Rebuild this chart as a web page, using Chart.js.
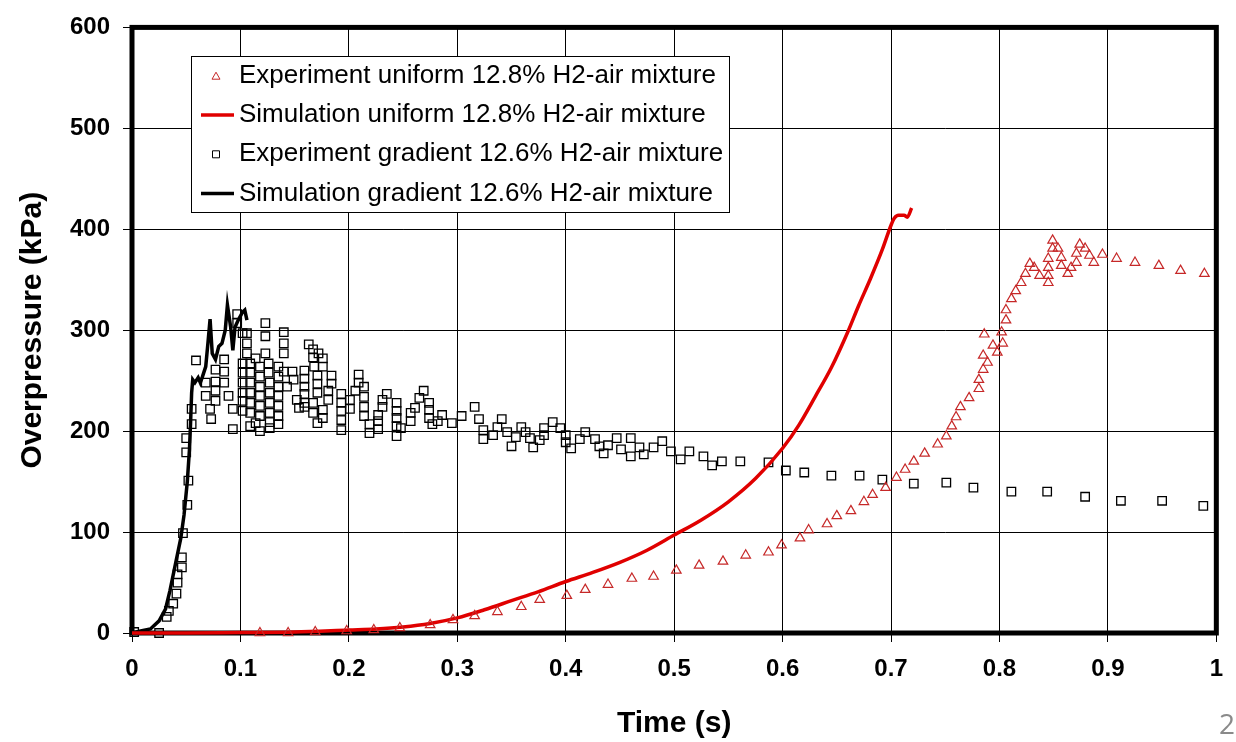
<!DOCTYPE html>
<html>
<head>
<meta charset="utf-8">
<script src="https://cdn.jsdelivr.net/npm/chart.js@4/dist/chart.umd.min.js"></script>
<style>
  html, body { margin: 0; padding: 0; background: #fff; }
  #wrap { width: 1236px; height: 742px; position: relative; }
</style>
</head>
<body>
<div id="wrap"><canvas id="c" width="1236" height="742"></canvas></div>
<script>
// Simulation, gradient 12.6% H2-air mixture (time s, overpressure kPa)
const simGradT = [0, 0.008, 0.017, 0.025, 0.031, 0.035, 0.040, 0.045, 0.048, 0.051, 0.053, 0.054, 0.055, 0.056, 0.058, 0.061, 0.063, 0.065, 0.068, 0.070, 0.072, 0.074, 0.077, 0.080, 0.083, 0.086, 0.088, 0.091, 0.093, 0.095, 0.098, 0.102, 0.104, 0.106];
const simGradP = [0, 2, 4, 12, 24, 42, 68, 94, 117, 150, 182, 208, 238, 251, 248, 253, 248, 254, 264, 287, 311, 277, 271, 284, 287, 300, 325, 303, 280, 303, 310, 318, 320, 310];

// Simulation, uniform 12.8% H2-air mixture
const simUniT = [0, 0.05, 0.10, 0.15, 0.20, 0.225, 0.25, 0.275, 0.30, 0.325, 0.35, 0.375, 0.40, 0.425, 0.45, 0.475, 0.50, 0.525, 0.55, 0.575, 0.60, 0.615, 0.63, 0.645, 0.66, 0.67, 0.681, 0.692, 0.700, 0.703, 0.707, 0.712, 0.715, 0.719];
const simUniP = [0, 0, 0.5, 1, 3, 4, 6, 9.5, 15, 23, 32, 41, 51, 60, 70, 82, 97, 112, 130, 153, 183, 206, 234, 263, 298, 324, 351, 380, 404, 411, 414, 414, 412, 421];

// Experiment, uniform 12.8% H2-air mixture
const expUniT = [0.118, 0.144, 0.169, 0.198, 0.223, 0.247, 0.275, 0.296, 0.316, 0.337, 0.359, 0.376, 0.401, 0.418, 0.439, 0.461, 0.481, 0.502, 0.523, 0.545, 0.566, 0.587, 0.599, 0.616, 0.624, 0.641, 0.650, 0.663, 0.675, 0.683, 0.695, 0.705, 0.713, 0.721, 0.731, 0.743, 0.751, 0.756, 0.760, 0.764, 0.772, 0.781, 0.781, 0.785, 0.789, 0.785, 0.794, 0.786, 0.798, 0.803, 0.802, 0.806, 0.806, 0.811, 0.815, 0.820, 0.824, 0.828, 0.832, 0.837, 0.845, 0.845, 0.845, 0.845, 0.849, 0.849, 0.854, 0.857, 0.857, 0.863, 0.866, 0.871, 0.871, 0.874, 0.879, 0.883, 0.887, 0.895, 0.908, 0.925, 0.947, 0.967, 0.989];
const expUniP = [0, 0, 1, 2, 3, 5, 8, 13, 17, 21, 26, 33, 37, 43, 48, 54, 56, 62, 67, 71, 77, 80, 87, 94, 102, 108, 116, 121, 130, 137, 144, 154, 162, 170, 178, 187, 195, 205, 214, 224, 233, 242, 251, 261, 268, 275, 285, 296, 278, 287, 298, 310, 320, 331, 339, 347, 356, 366, 362, 354, 347, 354, 362, 371, 381, 389, 381, 372, 364, 356, 362, 367, 376, 385, 381, 374, 367, 375, 371, 367, 364, 359, 356];

// Experiment, gradient 12.6% H2-air mixture
const expGradT = [
  0.002, 0.025, 0.032, 0.034, 0.038, 0.041, 0.042, 0.042, 0.046, 0.046, 0.047, 0.051, 0.052, 0.050, 0.050, 0.055, 0.055, 0.059,
  0.068, 0.068, 0.072, 0.073, 0.077, 0.077, 0.077, 0.077, 0.085, 0.085, 0.085, 0.089, 0.093, 0.093, 0.097, 0.097,
  0.102, 0.102, 0.102, 0.102, 0.102, 0.102, 0.102, 0.106, 0.106, 0.106, 0.109, 0.109, 0.109, 0.109, 0.109, 0.109, 0.109,
  0.114, 0.114, 0.118, 0.118, 0.118, 0.118, 0.118, 0.118, 0.118, 0.123, 0.123, 0.123, 0.126, 0.126, 0.127, 0.127, 0.127, 0.127, 0.127, 0.127,
  0.135, 0.135, 0.135, 0.135, 0.135, 0.135, 0.135, 0.140, 0.140, 0.140, 0.140, 0.143, 0.148, 0.149, 0.152, 0.154,
  0.159, 0.159, 0.159, 0.159, 0.159, 0.159, 0.163, 0.167, 0.167, 0.167, 0.167, 0.168, 0.171, 0.171, 0.171, 0.171, 0.172,
  0.176, 0.176, 0.176, 0.176, 0.181, 0.181, 0.184, 0.184, 0.193, 0.193, 0.193, 0.193, 0.193, 0.201, 0.201, 0.206, 0.209, 0.209,
  0.214, 0.214, 0.214, 0.214, 0.219, 0.219, 0.227, 0.227, 0.227, 0.231, 0.231, 0.235, 0.244, 0.244, 0.244, 0.244, 0.244, 0.248,
  0.257, 0.257, 0.261, 0.265, 0.269, 0.274, 0.274, 0.274, 0.277, 0.282, 0.286, 0.295,
  0.304, 0.316, 0.320, 0.324, 0.324, 0.333, 0.337, 0.341, 0.346, 0.350, 0.354, 0.359, 0.363, 0.367, 0.370, 0.376, 0.380, 0.380,
  0.388, 0.395, 0.400, 0.400, 0.405, 0.413, 0.418, 0.427, 0.431, 0.435, 0.439, 0.447, 0.451, 0.460, 0.460, 0.468, 0.472, 0.481,
  0.489, 0.497, 0.506, 0.514, 0.527, 0.535, 0.544, 0.561, 0.587, 0.603, 0.620,
  0.645, 0.671, 0.692, 0.721, 0.751, 0.776, 0.811, 0.844, 0.879, 0.912, 0.950, 0.988
];
const expGradP = [
  1, 0, 16, 22, 29, 39, 50, 58, 65, 75, 99, 127, 151, 179, 193, 207, 222, 270,
  248, 235, 222, 212, 261, 249, 240, 230, 271, 259, 248, 235, 222, 202, 316, 307,
  297, 267, 258, 248, 238, 230, 220, 297, 287, 277, 267, 258, 248, 238, 228, 218, 205,
  272, 208, 200, 264, 254, 244, 235, 225, 215, 307, 294, 277, 267, 258, 248, 238, 228, 218, 209, 203,
  264, 254, 244, 235, 225, 215, 207, 298, 287, 277, 259, 244, 259, 251, 231, 223,
  260, 252, 244, 237, 228, 224, 286, 281, 273, 228, 218, 264, 255, 247, 238, 208, 277,
  272, 264, 221, 213, 231, 240, 255, 247, 237, 228, 220, 211, 201, 231, 222, 240, 256, 248,
  244, 234, 224, 215, 207, 198, 216, 210, 202, 231, 224, 237, 228, 220, 213, 205, 195, 203,
  218, 210, 223, 233, 240, 228, 221, 213, 207, 210, 216, 208,
  215, 224, 212, 201, 192, 196, 204, 212, 199, 185, 194, 204, 199, 193, 184, 191, 203, 196,
  209, 203, 196, 189, 183, 192, 199, 192, 185, 178, 186, 193, 182, 193, 175, 184, 177, 184,
  190, 180, 172, 180, 175, 166, 170, 170, 169, 161, 159,
  156, 156, 152, 148, 149, 144, 140, 140, 135, 131, 131, 126
];

const seriesLabels = [
  'Experiment uniform 12.8% H2-air mixture',
  'Simulation uniform 12.8% H2-air mixture',
  'Experiment gradient 12.6% H2-air mixture',
  'Simulation gradient 12.6% H2-air mixture'
];

const RED_MARK = '#c62828';
const RED_LINE = '#e00000';
const FONT = '"Liberation Sans", Arial, sans-serif';

const pts = (t, p) => t.map((x, i) => ({ x: x, y: p[i] }));

// Plot frame drawn under the data
const framePlugin = {
  id: 'frame',
  beforeDatasetsDraw(chart) {
    const { ctx, chartArea: a } = chart;
    ctx.save();
    ctx.strokeStyle = '#000';
    ctx.lineWidth = 5;
    ctx.strokeRect(a.left, a.top, a.right - a.left, a.bottom - a.top);
    ctx.restore();
  }
};

// Boxed legend inside the plot, plus the page number
const legendBoxPlugin = {
  id: 'legendBox',
  afterDatasetsDraw(chart) {
    const { ctx } = chart;
    const bx = 191.5, by = 56.5, bw = 538, bh = 156;
    ctx.save();
    ctx.fillStyle = '#fff';
    ctx.fillRect(bx, by, bw, bh);
    ctx.strokeStyle = '#000';
    ctx.lineWidth = 1;
    ctx.strokeRect(bx, by, bw, bh);
    const rowY0 = 75.7, rowStep = 39.3, sx = 216, tx = 239;
    chart.data.datasets.forEach((ds, i) => {
      const y = rowY0 + i * rowStep;
      ctx.beginPath();
      if (ds.showLine) {
        ctx.strokeStyle = ds.borderColor;
        ctx.lineWidth = 3.5;
        ctx.moveTo(201, y);
        ctx.lineTo(234, y);
      } else if (ds.pointStyle === 'triangle') {
        ctx.strokeStyle = ds.pointBorderColor;
        ctx.lineWidth = 1;
        ctx.moveTo(sx, y - 3.5);
        ctx.lineTo(sx + 4, y + 3.5);
        ctx.lineTo(sx - 4, y + 3.5);
        ctx.closePath();
      } else {
        ctx.strokeStyle = ds.pointBorderColor;
        ctx.lineWidth = 1;
        ctx.rect(sx - 3.5, y - 3.5, 7, 7);
      }
      ctx.stroke();
      ctx.fillStyle = '#000';
      ctx.font = '26px ' + FONT;
      ctx.textAlign = 'left';
      ctx.textBaseline = 'middle';
      ctx.fillText(ds.label, tx, y);
    });
    ctx.restore();
  },
  afterDraw(chart) {
    const { ctx } = chart;
    ctx.save();
    ctx.fillStyle = '#8a8a8a';
    ctx.font = '28px "Open Sans", sans-serif';
    ctx.textAlign = 'center';
    ctx.textBaseline = 'alphabetic';
    ctx.fillText('2', 1227, 734);
    ctx.restore();
  }
};

new Chart(document.getElementById('c'), {
  type: 'scatter',
  data: {
    datasets: [
      {
        label: seriesLabels[0],
        data: pts(expUniT, expUniP),
        showLine: false,
        pointStyle: 'triangle',
        pointRadius: 5.5,
        pointBorderWidth: 1.2,
        pointBorderColor: RED_MARK,
        pointBackgroundColor: 'rgba(0,0,0,0)',
        clip: false
      },
      {
        label: seriesLabels[1],
        data: pts(simUniT, simUniP),
        showLine: true,
        borderColor: RED_LINE,
        borderWidth: 3.5,
        pointRadius: 0,
        cubicInterpolationMode: 'monotone',
        clip: false
      },
      {
        label: seriesLabels[2],
        data: pts(expGradT, expGradP),
        showLine: false,
        pointStyle: 'rect',
        pointRadius: 6,
        pointBorderWidth: 1.3,
        pointBorderColor: '#000',
        pointBackgroundColor: 'rgba(0,0,0,0)',
        clip: false
      },
      {
        label: seriesLabels[3],
        data: pts(simGradT, simGradP),
        showLine: true,
        borderColor: '#000',
        borderWidth: 3.5,
        pointRadius: 0,
        tension: 0,
        clip: false
      }
    ]
  },
  options: {
    responsive: false,
    animation: false,
    devicePixelRatio: 1,
    layout: { padding: { top: 20, right: 14, left: 0, bottom: 0 } },
    plugins: {
      legend: { display: false },
      tooltip: { enabled: false }
    },
    scales: {
      x: {
        type: 'linear',
        min: 0,
        max: 1,
        afterFit(scale) { scale.height = 109; },
        border: { display: false },
        grid: { color: '#000', lineWidth: 1, tickLength: 9, tickColor: '#000' },
        ticks: {
          stepSize: 0.1,
          autoSkip: false,
          maxRotation: 0,
          padding: 13,
          color: '#000',
          font: { family: FONT, size: 24, weight: 'bold' },
          callback: (v) => String(Number(v.toFixed(1)))
        },
        title: {
          display: true,
          text: 'Time (s)',
          color: '#000',
          font: { family: FONT, size: 30, weight: 'bold' },
          padding: { top: 0, bottom: 0 }
        }
      },
      y: {
        type: 'linear',
        min: 0,
        max: 600,
        afterFit(scale) { scale.width = 132; },
        border: { display: false },
        grid: { color: '#000', lineWidth: 1, tickLength: 9, tickColor: '#000' },
        ticks: {
          stepSize: 100,
          padding: 13,
          color: '#000',
          font: { family: FONT, size: 24, weight: 'bold' }
        },
        title: {
          display: true,
          text: 'Overpressure (kPa)',
          color: '#000',
          font: { family: FONT, size: 30, weight: 'bold' },
          padding: { top: 15, bottom: 0 }
        }
      }
    }
  },
  plugins: [framePlugin, legendBoxPlugin]
});
</script>
</body>
</html>
